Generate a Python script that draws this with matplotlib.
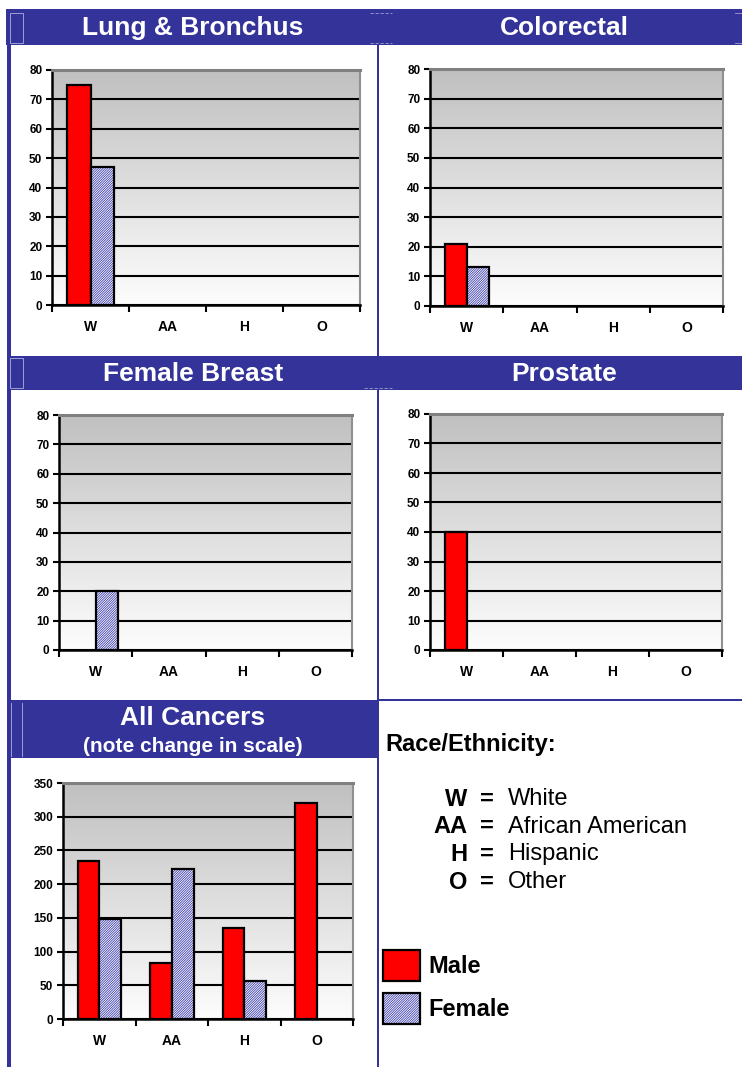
import numpy as np
import matplotlib
matplotlib.use('Agg')
import matplotlib.pyplot as plt
from matplotlib.patches import Rectangle, Patch
from matplotlib.legend_handler import HandlerTuple
from matplotlib.colors import LinearSegmentedColormap

plt.rcParams['font.family'] = ['Liberation Sans', 'DejaVu Sans']
plt.rcParams['hatch.linewidth'] = 0.6

# ---------------- data ----------------
categories = ['W', 'AA', 'H', 'O']
lung_male = [75, 0, 0, 0]
lung_female = [47, 0, 0, 0]
colorectal_male = [21, 0, 0, 0]
colorectal_female = [13, 0, 0, 0]
breast_male = [0, 0, 0, 0]
breast_female = [20, 0, 0, 0]
prostate_male = [40, 0, 0, 0]
prostate_female = [0, 0, 0, 0]
all_male = [235, 83, 135, 320]
all_female = [148, 223, 57, 0]
small_ticks = list(range(0, 81, 10))
all_ticks = list(range(0, 351, 50))

race_codes = ['W', 'AA', 'H', 'O']
race_names = ['White', 'African American', 'Hispanic', 'Other']
sex_labels = ['Male', 'Female']

# ---------------- layout ----------------
W, H = 742, 1067
fig = plt.figure(figsize=(W / 100, H / 100), dpi=100)

BLUE = '#333399'
HATCH_C = '#4040b0'
HATCH = '/' * 14
LIGHT = '#a0a0d0'
grad = LinearSegmentedColormap.from_list('g', ['#fdfdfd', '#c0c0c0'])


def px_axes(l, t, r, b, **kw):
    return fig.add_axes([l / W, 1 - b / H, (r - l) / W, (b - t) / H], **kw)


bg = fig.add_axes([0, 0, 1, 1], zorder=-5)
bg.set_xlim(0, W)
bg.set_ylim(H, 0)
bg.axis('off')

# title bars and frame lines
bg.add_patch(Rectangle((6, 9), W - 6, 36, color=BLUE, lw=0))
bg.add_patch(Rectangle((7, 356), W - 7, 34, color=BLUE, lw=0))
bg.add_patch(Rectangle((7, 700), 371, 58, color=BLUE, lw=0))
bg.add_patch(Rectangle((378, 699), W - 378, 2, color=BLUE, lw=0))
bg.add_patch(Rectangle((7, 9), 3.5, H - 9, color=BLUE, lw=0))
bg.add_patch(Rectangle((377, 44), 2, H - 44, color=BLUE, lw=0))

# faint decorations inside the bars
bg.add_patch(Rectangle((10, 13), 13, 30, fill=False, ec=LIGHT, lw=0.7))
bg.add_patch(Rectangle((10, 358), 13, 30, fill=False, ec=LIGHT, lw=0.7))
for xx in (11, 22):
    bg.plot([xx, xx], [703, 756], color=LIGHT, lw=0.7)
for yy in (13, 43):
    bg.plot([370, 392], [yy, yy], color=LIGHT, lw=0.6, ls=(0, (4, 2)))
    bg.plot([735, 742], [yy, yy], color=LIGHT, lw=0.6)
bg.plot([364, 392], [388, 388], color=LIGHT, lw=0.6, ls=(0, (4, 2)))

# titles
tkw = dict(color='white', fontweight='bold', ha='center', va='center')
bg.text(193, 28, 'Lung & Bronchus', fontsize=19, **tkw)
bg.text(564, 28, 'Colorectal', fontsize=19, **tkw)
bg.text(193, 374, 'Female Breast', fontsize=19, **tkw)
bg.text(564, 374, 'Prostate', fontsize=19, **tkw)
bg.text(193, 718, 'All Cancers', fontsize=19, **tkw)
bg.text(193, 746, '(note change in scale)', fontsize=15, **tkw)


def draw_chart(ax, male, female, ymax, ticks):
    n = len(categories)
    x = np.arange(n) + 0.5
    bw = 0.3
    ax.imshow(np.linspace(0, 1, 256)[::-1][:, None], cmap=grad, aspect='auto',
              extent=(0, n, 0, ymax), origin='upper', zorder=0.1)
    ax.set_xlim(0, n)
    ax.set_ylim(0, ymax)
    m = np.asarray(male, float)
    f = np.asarray(female, float)
    mm = m > 0
    fm = f > 0
    ax.bar(x[mm] - bw / 2, m[mm], bw, color='#ff0000', edgecolor='black', lw=1.6, zorder=3)
    ax.bar(x[fm] + bw / 2, f[fm], bw, color='white', edgecolor=HATCH_C,
           hatch=HATCH, lw=0, zorder=3)
    ax.bar(x[fm] + bw / 2, f[fm], bw, fill=False, edgecolor='black', lw=1.6, zorder=4)

    ax.set_xticks(np.arange(n + 1))
    ax.set_xticklabels([])
    ax.set_xticks(x, minor=True)
    ax.set_xticklabels(categories, minor=True, fontsize=10, fontweight='bold')
    ax.tick_params(axis='x', which='major', length=5, width=1.5, direction='out')
    ax.tick_params(axis='x', which='minor', length=0, pad=11)
    ax.set_yticks(ticks)
    ax.set_yticklabels([str(t) for t in ticks], fontsize=8.5, fontweight='bold')
    ax.tick_params(axis='y', length=4, width=1.5, pad=3)
    ax.yaxis.grid(True, color='black', lw=1.5)
    ax.set_axisbelow(True)
    ax.spines['left'].set_linewidth(1.8)
    ax.spines['bottom'].set_linewidth(1.8)
    ax.spines['top'].set_color('#808080')
    ax.spines['top'].set_linewidth(2.2)
    ax.spines['right'].set_color('#909090')
    ax.spines['right'].set_linewidth(1.5)
    for s in ax.spines.values():
        s.set_zorder(5)


draw_chart(px_axes(52, 70, 360, 305), lung_male, lung_female, 80, small_ticks)
draw_chart(px_axes(430, 69, 723, 306), colorectal_male, colorectal_female, 80, small_ticks)
draw_chart(px_axes(59, 415, 352, 650), breast_male, breast_female, 80, small_ticks)
draw_chart(px_axes(430, 414, 722, 650), prostate_male, prostate_female, 80, small_ticks)
draw_chart(px_axes(63, 783, 353, 1019), all_male, all_female, 350, all_ticks)

# race / ethnicity key
bg.text(385, 745, 'Race/Ethnicity:', fontsize=17, fontweight='bold', ha='left', va='center')
for i, (code, name) in enumerate(zip(race_codes, race_names)):
    yy = 799 + i * 27.7
    bg.text(467, yy, code, fontsize=17, fontweight='bold', ha='right', va='center')
    bg.text(487, yy, '=', fontsize=17, fontweight='bold', ha='center', va='center')
    bg.text(508, yy, name, fontsize=17, ha='left', va='center')

# sex legend
handles = [Patch(facecolor='#ff0000', edgecolor='black', lw=1.6),
           (Patch(facecolor='white', edgecolor=HATCH_C, hatch=HATCH, lw=0),
            Patch(fill=False, edgecolor='black', lw=1.6))]
fig.legend(handles=handles, labels=sex_labels,
           handler_map={tuple: HandlerTuple(ndivide=1, pad=0)},
           loc='upper left', bbox_to_anchor=(383 / W, 1 - 950 / H),
           frameon=False, borderpad=0, borderaxespad=0,
           handlelength=1.57, handleheight=1.64, labelspacing=0.51,
           handletextpad=0.34, prop={'weight': 'bold', 'size': 17})

fig.savefig('out.png', dpi=100)
